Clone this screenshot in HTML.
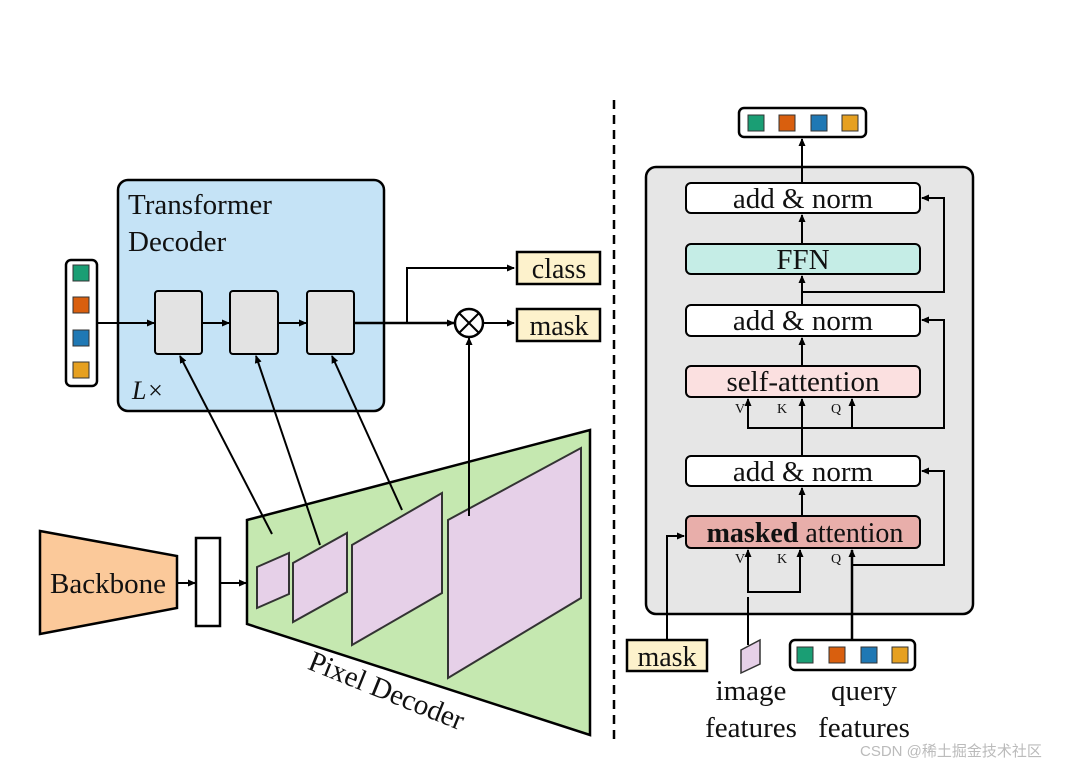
<!DOCTYPE html>
<html><head><meta charset="utf-8"><style>
html,body{margin:0;padding:0;background:#fff;}
svg{display:block;}
text{font-family:"Liberation Serif",serif;fill:#111;}
</style></head><body>
<svg width="1072" height="766" viewBox="0 0 1072 766" xmlns="http://www.w3.org/2000/svg">
<defs>
<marker id="a" markerWidth="8" markerHeight="8" refX="7" refY="4" orient="auto" markerUnits="userSpaceOnUse">
<path d="M0,0.5 L8,4 L0,7.5 Z" fill="#000"/></marker>
</defs>
<line x1="614" y1="100" x2="614" y2="745" stroke="#000" stroke-width="2.5" stroke-dasharray="9,6"/>

<rect x="118" y="180" width="266" height="231" rx="10" fill="#c5e3f6" stroke="#000" stroke-width="2.5"/>
<text x="128" y="214" font-size="29">Transformer</text>
<text x="128" y="251" font-size="29">Decoder</text>
<text x="132" y="399" font-size="26" font-style="italic">L×</text>

<rect x="66" y="260" width="31" height="126" rx="5" fill="#fff" stroke="#000" stroke-width="2.5"/>
<rect x="73" y="265" width="16" height="16" fill="#1a9e74" stroke="#333"/>
<rect x="73" y="297" width="16" height="16" fill="#d95f0e" stroke="#333"/>
<rect x="73" y="330" width="16" height="16" fill="#1f78b4" stroke="#333"/>
<rect x="73" y="362" width="16" height="16" fill="#e6a020" stroke="#333"/>

<line x1="97" y1="323" x2="154" y2="323" stroke="#000" stroke-width="2" marker-end="url(#a)"/>
<rect x="155" y="291" width="47" height="63" rx="3" fill="#e3e3e3" stroke="#000" stroke-width="2"/>
<line x1="202" y1="323" x2="229" y2="323" stroke="#000" stroke-width="2" marker-end="url(#a)"/>
<rect x="230" y="291" width="48" height="63" rx="3" fill="#e3e3e3" stroke="#000" stroke-width="2"/>
<line x1="278" y1="323" x2="306" y2="323" stroke="#000" stroke-width="2" marker-end="url(#a)"/>
<rect x="307" y="291" width="47" height="63" rx="3" fill="#e3e3e3" stroke="#000" stroke-width="2"/>
<line x1="354" y1="323" x2="454" y2="323" stroke="#000" stroke-width="2.5" marker-end="url(#a)"/>
<polyline points="407,323 407,268 514,268" fill="none" stroke="#000" stroke-width="2" marker-end="url(#a)"/>
<circle cx="469" cy="323" r="14" fill="#fff" stroke="#000" stroke-width="2.5"/>
<line x1="459" y1="313" x2="479" y2="333" stroke="#000" stroke-width="2"/>
<line x1="479" y1="313" x2="459" y2="333" stroke="#000" stroke-width="2"/>
<line x1="483" y1="323" x2="514" y2="323" stroke="#000" stroke-width="2" marker-end="url(#a)"/>
<rect x="517" y="252" width="83" height="32" fill="#fdf2cc" stroke="#000" stroke-width="2.5"/>
<text x="559" y="278" font-size="28" text-anchor="middle">class</text>
<rect x="517" y="309" width="83" height="32" fill="#fdf2cc" stroke="#000" stroke-width="2.5"/>
<text x="559" y="335" font-size="28" text-anchor="middle">mask</text>

<polygon points="40,531 177,556 177,608 40,634" fill="#fbc99a" stroke="#000" stroke-width="2.5"/>
<text x="108" y="593" font-size="29" text-anchor="middle">Backbone</text>
<line x1="177" y1="583" x2="195" y2="583" stroke="#000" stroke-width="2" marker-end="url(#a)"/>
<rect x="196" y="538" width="24" height="88" fill="#fff" stroke="#000" stroke-width="2.5"/>
<line x1="220" y1="583" x2="246" y2="583" stroke="#000" stroke-width="2" marker-end="url(#a)"/>

<polygon points="247,520 590,430 590,735 247,624" fill="#c5e8b0" stroke="#000" stroke-width="2.5"/>
<polygon points="257,567 289,553 289,594 257,608" fill="#e6d0e8" stroke="#333" stroke-width="2"/>
<polygon points="293,563 347,533 347,592 293,622" fill="#e6d0e8" stroke="#333" stroke-width="2"/>
<polygon points="352,545 442,493 442,593 352,645" fill="#e6d0e8" stroke="#333" stroke-width="2"/>
<polygon points="448,520 581,448 581,598 448,678" fill="#e6d0e8" stroke="#333" stroke-width="2"/>
<text x="386" y="700" font-size="29" text-anchor="middle" transform="rotate(22 386 692)">Pixel Decoder</text>

<line x1="272" y1="534" x2="180" y2="356" stroke="#000" stroke-width="2" marker-end="url(#a)"/>
<line x1="320" y1="545" x2="256" y2="356" stroke="#000" stroke-width="2" marker-end="url(#a)"/>
<line x1="402" y1="510" x2="332" y2="356" stroke="#000" stroke-width="2" marker-end="url(#a)"/>
<line x1="469" y1="516" x2="469" y2="338" stroke="#000" stroke-width="2" marker-end="url(#a)"/>

<rect x="646" y="167" width="327" height="447" rx="10" fill="#e6e6e6" stroke="#000" stroke-width="2.5"/>
<rect x="739" y="108" width="127" height="29" rx="5" fill="#fff" stroke="#000" stroke-width="2.5"/>
<rect x="748" y="115" width="16" height="16" fill="#1a9e74" stroke="#333"/>
<rect x="779" y="115" width="16" height="16" fill="#d95f0e" stroke="#333"/>
<rect x="811" y="115" width="16" height="16" fill="#1f78b4" stroke="#333"/>
<rect x="842" y="115" width="16" height="16" fill="#e6a020" stroke="#333"/>
<line x1="802" y1="183" x2="802" y2="139" stroke="#000" stroke-width="2" marker-end="url(#a)"/>

<rect x="686" y="183" width="234" height="30" rx="5" fill="#fff" stroke="#000" stroke-width="2"/>
<text x="803" y="208" font-size="29" text-anchor="middle">add &amp; norm</text>
<line x1="802" y1="244" x2="802" y2="215" stroke="#000" stroke-width="2" marker-end="url(#a)"/>
<rect x="686" y="244" width="234" height="30" rx="5" fill="#c5ede6" stroke="#000" stroke-width="2"/>
<text x="803" y="269" font-size="29" text-anchor="middle">FFN</text>
<line x1="802" y1="305" x2="802" y2="276" stroke="#000" stroke-width="2" marker-end="url(#a)"/>
<polyline points="802,292 944,292 944,198 922,198" fill="none" stroke="#000" stroke-width="2" marker-end="url(#a)"/>
<rect x="686" y="305" width="234" height="31" rx="5" fill="#fff" stroke="#000" stroke-width="2"/>
<text x="803" y="330" font-size="29" text-anchor="middle">add &amp; norm</text>
<line x1="802" y1="366" x2="802" y2="338" stroke="#000" stroke-width="2" marker-end="url(#a)"/>
<rect x="686" y="366" width="234" height="31" rx="5" fill="#fbe0e0" stroke="#000" stroke-width="2"/>
<text x="803" y="391" font-size="29" text-anchor="middle">self-attention</text>
<text x="735" y="413" font-size="14">V</text>
<text x="777" y="413" font-size="14">K</text>
<text x="831" y="413" font-size="14">Q</text>
<polyline points="748,399 748,428 944,428 944,320 922,320" fill="none" stroke="#000" stroke-width="2" marker-end="url(#a)"/>
<line x1="748" y1="428" x2="748" y2="399" stroke="#000" stroke-width="2" marker-end="url(#a)"/>
<line x1="852" y1="428" x2="852" y2="399" stroke="#000" stroke-width="2" marker-end="url(#a)"/>
<line x1="802" y1="456" x2="802" y2="399" stroke="#000" stroke-width="2" marker-end="url(#a)"/>
<rect x="686" y="456" width="234" height="30" rx="5" fill="#fff" stroke="#000" stroke-width="2"/>
<text x="803" y="481" font-size="29" text-anchor="middle">add &amp; norm</text>
<line x1="802" y1="516" x2="802" y2="488" stroke="#000" stroke-width="2" marker-end="url(#a)"/>
<rect x="686" y="516" width="234" height="32" rx="5" fill="#e8aeaa" stroke="#000" stroke-width="2"/>
<text x="805" y="542" font-size="28" text-anchor="middle"><tspan font-weight="bold">masked</tspan> attention</text>
<text x="735" y="563" font-size="14">V</text>
<text x="777" y="563" font-size="14">K</text>
<text x="831" y="563" font-size="14">Q</text>
<polyline points="748,550 748,592 800,592 800,550" fill="none" stroke="#000" stroke-width="2"/>
<line x1="748" y1="560" x2="748" y2="550" stroke="#000" stroke-width="2" marker-end="url(#a)"/>
<line x1="800" y1="560" x2="800" y2="550" stroke="#000" stroke-width="2" marker-end="url(#a)"/>
<line x1="748" y1="597" x2="748" y2="645" stroke="#000" stroke-width="2"/>
<line x1="852" y1="640" x2="852" y2="550" stroke="#000" stroke-width="2.5" marker-end="url(#a)"/>
<polyline points="852,565 944,565 944,471 922,471" fill="none" stroke="#000" stroke-width="2" marker-end="url(#a)"/>
<polyline points="667,640 667,536 684,536" fill="none" stroke="#000" stroke-width="2" marker-end="url(#a)"/>

<rect x="627" y="640" width="80" height="31" fill="#fdf2cc" stroke="#000" stroke-width="2.5"/>
<text x="667" y="666" font-size="28" text-anchor="middle">mask</text>
<polygon points="741,650 760,640 760,664 741,673" fill="#e6d0e8" stroke="#333" stroke-width="1.5"/>
<rect x="790" y="640" width="125" height="30" rx="5" fill="#fff" stroke="#000" stroke-width="2.5"/>
<rect x="797" y="647" width="16" height="16" fill="#1a9e74" stroke="#333"/>
<rect x="829" y="647" width="16" height="16" fill="#d95f0e" stroke="#333"/>
<rect x="861" y="647" width="16" height="16" fill="#1f78b4" stroke="#333"/>
<rect x="892" y="647" width="16" height="16" fill="#e6a020" stroke="#333"/>
<text x="751" y="700" font-size="29" text-anchor="middle">image</text>
<text x="751" y="737" font-size="29" text-anchor="middle">features</text>
<text x="864" y="700" font-size="29" text-anchor="middle">query</text>
<text x="864" y="737" font-size="29" text-anchor="middle">features</text>
<text x="860" y="756" font-size="15" style="font-family:'Liberation Sans','Noto Sans CJK SC',sans-serif;fill:#bbb">CSDN @稀土掘金技术社区</text>
</svg>
</body></html>
